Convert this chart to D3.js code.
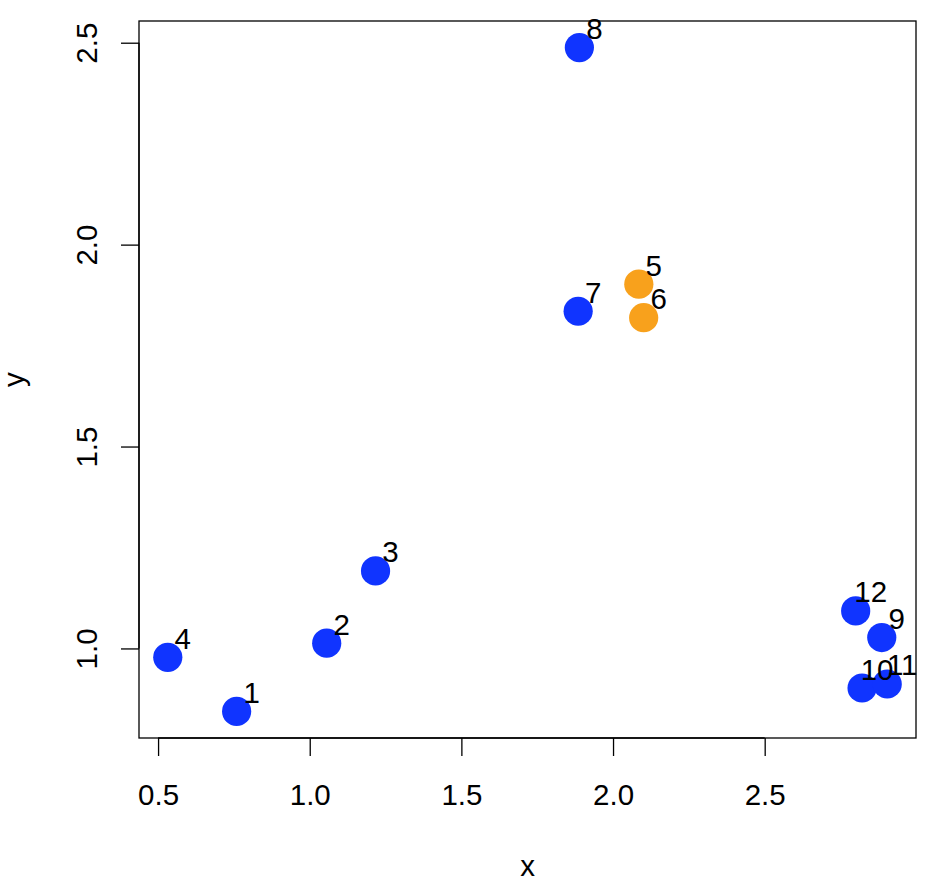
<!DOCTYPE html>
<html>
<head>
<meta charset="utf-8">
<script src="https://cdn.jsdelivr.net/npm/d3@7"></script>
<style>
  body { margin: 0; background: #fff; }
  text { font-family: "Liberation Sans", Arial, sans-serif; fill: #000; }
</style>
</head>
<body>
<div id="chart"></div>
<script>
// point data
const labels = ["1", "2", "3", "4", "5", "6", "7", "8", "9", "10", "11", "12"];
const xs = [0.759, 1.056, 1.217, 0.532, 2.085, 2.101, 1.885, 1.889, 2.886, 2.821, 2.904, 2.800];
const ys = [0.844, 1.013, 1.192, 0.978, 1.902, 1.819, 1.835, 2.488, 1.027, 0.902, 0.912, 1.093];
const groups = ["a", "a", "a", "a", "b", "b", "a", "a", "a", "a", "a", "a"];
const xTicks = [0.5, 1.0, 1.5, 2.0, 2.5];
const yTicks = [1.0, 1.5, 2.0, 2.5];

const points = labels.map((l, i) => ({ label: l, x: xs[i], y: ys[i], group: groups[i] }));

const width = 939, height = 880;
const plot = { left: 139, right: 916, top: 21, bottom: 738 };
const colors = { a: "#1034ff", b: "#f8a11c" };
const fontSize = 29.5;

// R style 4% padding on each side
function padded(vals) {
    const [lo, hi] = d3.extent(vals);
    const pad = (hi - lo) * 0.04;
    return [lo - pad, hi + pad];
}

const xScale = d3.scaleLinear().domain(padded(xs)).range([plot.left, plot.right]);
const yScale = d3.scaleLinear().domain(padded(ys)).range([plot.bottom, plot.top]);

const svg = d3.select("#chart").append("svg")
    .attr("width", width)
    .attr("height", height);

// x axis
const xAxis = svg.append("g")
    .attr("transform", `translate(0, ${plot.bottom})`)
    .call(d3.axisBottom(xScale).tickValues(xTicks).tickFormat(d3.format(".1f")).tickSize(18).tickSizeOuter(0));
xAxis.select(".domain").attr("d", `M${xScale(xTicks[0])},0H${xScale(xTicks[xTicks.length - 1])}`);
xAxis.selectAll(".domain, .tick line").attr("stroke", "#000").attr("stroke-width", 1.3);
xAxis.selectAll(".tick text")
    .attr("font-size", fontSize)
    .attr("font-family", "Liberation Sans, Arial, sans-serif")
    .attr("dy", null)
    .attr("y", 67)
    .attr("fill", "#000");

// y axis
const yAxis = svg.append("g")
    .attr("transform", `translate(${plot.left}, 0)`)
    .call(d3.axisLeft(yScale).tickValues(yTicks).tickFormat(d3.format(".1f")).tickSize(18).tickSizeOuter(0));
yAxis.select(".domain").attr("d", `M0,${yScale(yTicks[0])}V${yScale(yTicks[yTicks.length - 1])}`);
yAxis.selectAll(".domain, .tick line").attr("stroke", "#000").attr("stroke-width", 1.3);
yAxis.selectAll(".tick text")
    .attr("font-size", fontSize)
    .attr("font-family", "Liberation Sans, Arial, sans-serif")
    .attr("x", null)
    .attr("dy", null)
    .attr("text-anchor", "middle")
    .attr("transform", "translate(-42, 0) rotate(-90)")
    .attr("fill", "#000");

// plot box
svg.append("rect")
    .attr("x", plot.left)
    .attr("y", plot.top)
    .attr("width", plot.right - plot.left)
    .attr("height", plot.bottom - plot.top)
    .attr("fill", "none")
    .attr("stroke", "#000")
    .attr("stroke-width", 1.3);

// axis titles
svg.append("text")
    .attr("x", (plot.left + plot.right) / 2)
    .attr("y", 876)
    .attr("text-anchor", "middle")
    .attr("font-size", fontSize)
    .text("x");

svg.append("text")
    .attr("transform", `translate(24, ${(plot.top + plot.bottom) / 2}) rotate(-90)`)
    .attr("text-anchor", "middle")
    .attr("font-size", fontSize)
    .text("y");

// points
svg.append("g").selectAll("circle").data(points).enter().append("circle")
    .attr("cx", d => xScale(d.x))
    .attr("cy", d => yScale(d.y))
    .attr("r", 14.6)
    .attr("fill", d => colors[d.group]);

// labels
svg.append("g").selectAll("text").data(points).enter().append("text")
    .attr("x", d => xScale(d.x) + 15)
    .attr("y", d => yScale(d.y) - 8.5)
    .attr("text-anchor", "middle")
    .attr("font-size", fontSize)
    .text(d => d.label);
</script>
</body>
</html>
